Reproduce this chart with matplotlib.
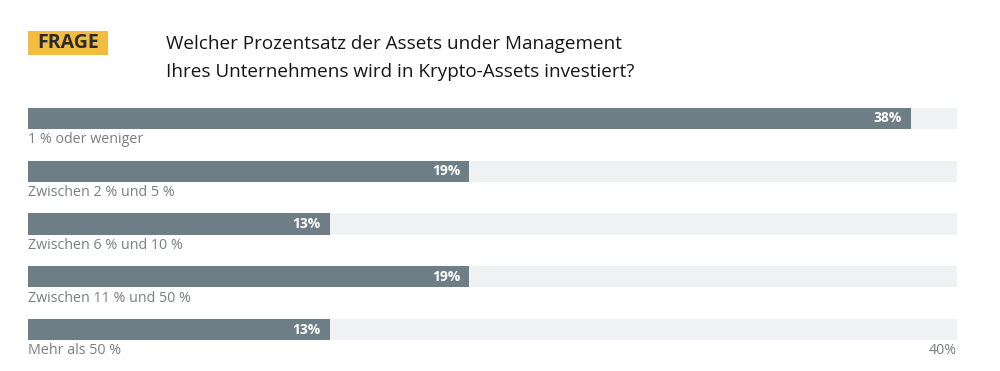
import matplotlib.pyplot as plt
from matplotlib.patches import Rectangle

plt.rcParams['font.family'] = ['Open Sans', 'DejaVu Sans']

categories = ['1 % oder weniger', 'Zwischen 2 % und 5 %', 'Zwischen 6 % und 10 %',
              'Zwischen 11 % und 50 %', 'Mehr als 50 %']
values = [38, 19, 13, 19, 13]
x_max = 40

bar_color = '#6e7e87'
track_color = '#f0f1f3'
label_color = '#7a7e81'

fig = plt.figure(figsize=(10, 3.71), dpi=100)
fig.patch.set_facecolor('white')

# header
fig.patches.append(Rectangle((0.028, 1 - 55 / 371), 0.080, 24 / 371,
                             transform=fig.transFigure, facecolor='#f2bd3f',
                             edgecolor='none'))
fig.text(0.068, 1 - 43 / 371, 'FRAGE', ha='center', va='center',
         fontsize=14, fontweight='bold', color='#2b2b2b')
fig.text(0.166, 1 - 44 / 371, 'Welcher Prozentsatz der Assets under Management',
         ha='left', va='center', fontsize=13.6, color='#161616')
fig.text(0.166, 1 - 72 / 371, 'Ihres Unternehmens wird in Krypto-Assets investiert?',
         ha='left', va='center', fontsize=13.6, color='#161616')

ax = fig.add_axes([0.028, 15 / 371, 0.929, 264 / 371])
ypos = list(range(len(categories)))
ax.barh(ypos, [x_max] * len(ypos), height=0.4, color=track_color)
ax.barh(ypos, values, height=0.4, color=bar_color)

for y, v, c in zip(ypos, values, categories):
    ax.text(v - 0.4, y, f'{v}%', ha='right', va='center', fontsize=10,
            fontweight='bold', color='white')
    ax.text(0, y + 0.26, c, ha='left', va='top', fontsize=10.25, color=label_color)

ax.text(x_max, ypos[-1] + 0.26, f'{x_max}%', ha='right', va='top',
        fontsize=10.25, color=label_color)

ax.set_xlim(0, x_max)
ax.set_ylim(4.5, -0.5)
ax.axis('off')

fig.savefig('out.png', dpi=100)
